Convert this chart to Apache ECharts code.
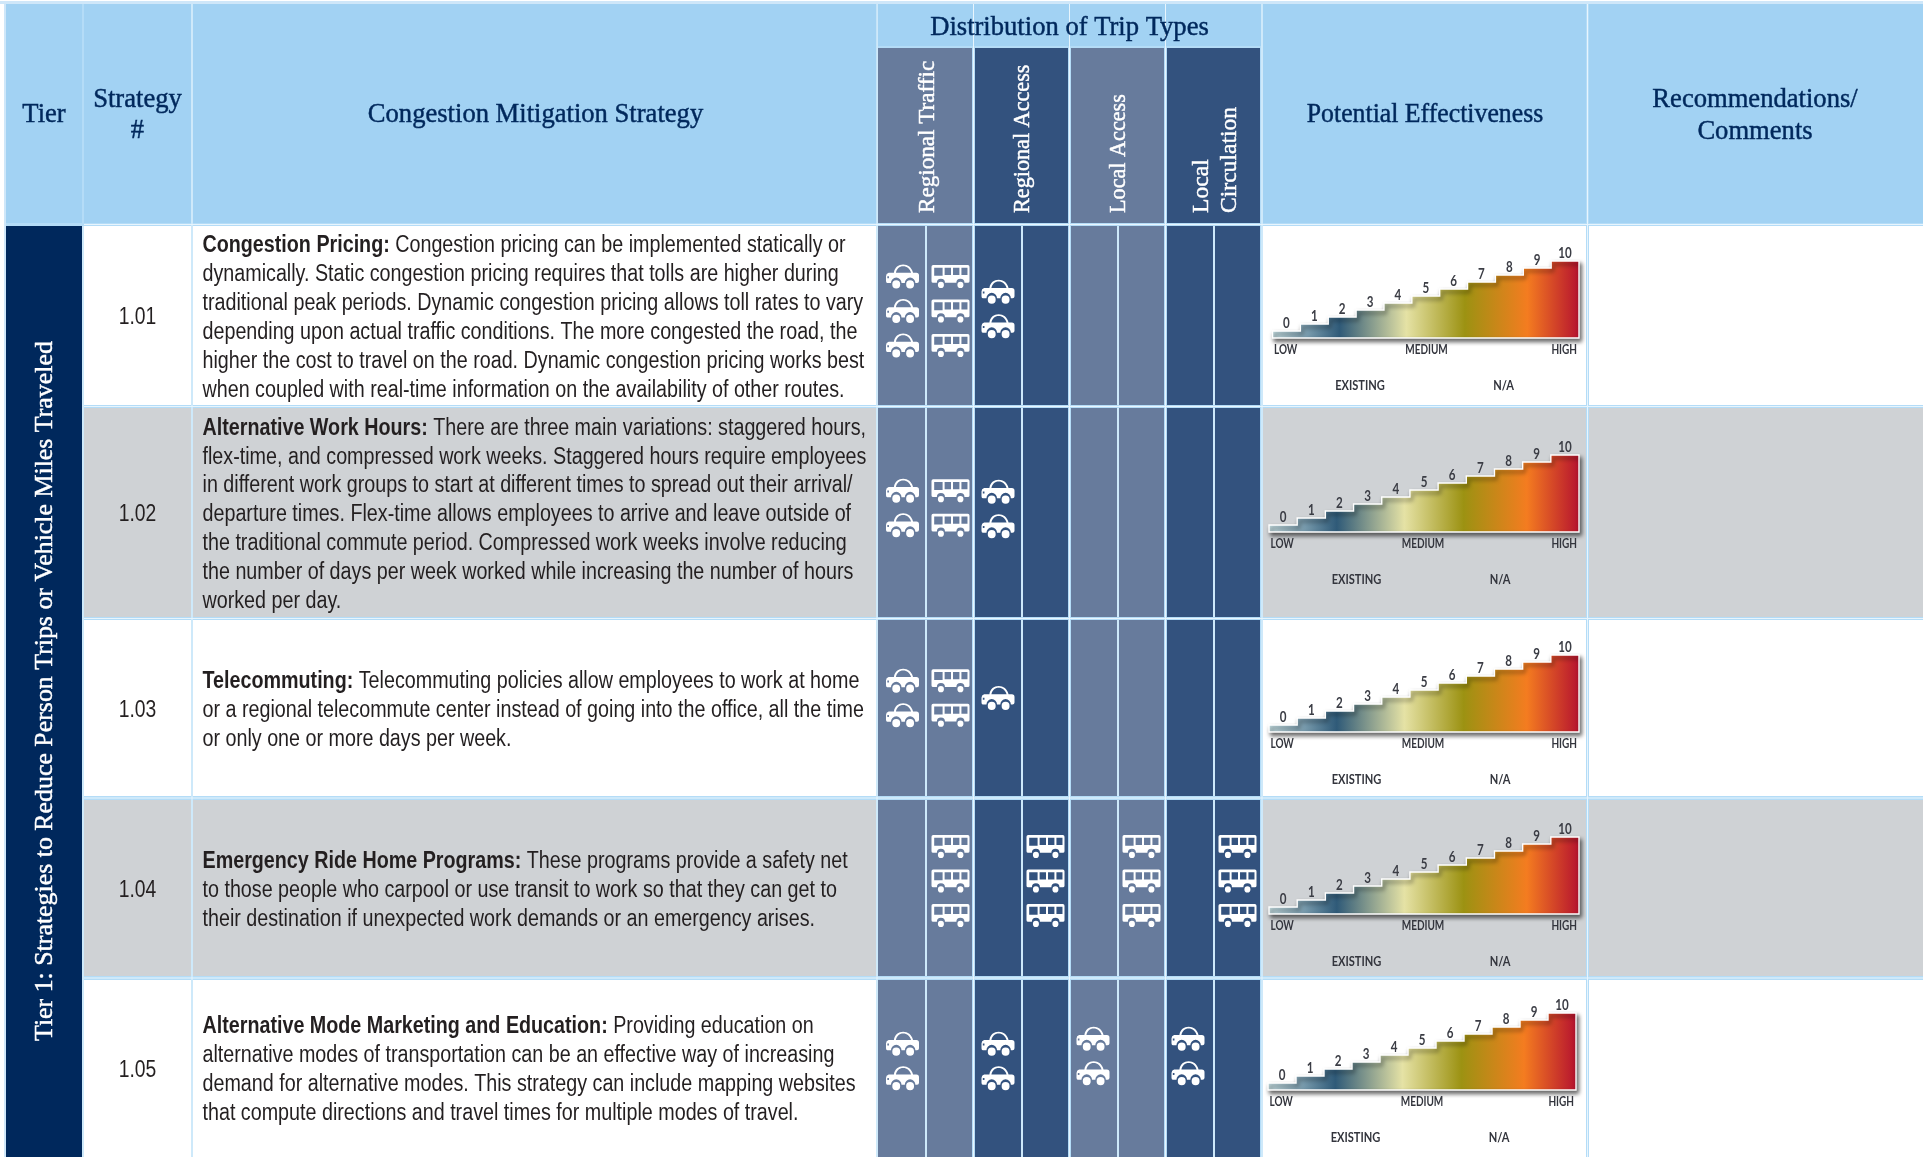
<!DOCTYPE html>
<html><head><meta charset="utf-8">
<style>html,body{margin:0;padding:0;background:#fff}#c{width:1923px;height:1157px}</style>
<script src="https://cdn.jsdelivr.net/npm/echarts@6/dist/echarts.min.js"></script>
</head><body><div id="c"></div>
<script>
// ---- content ----
const tierLabel = ['Tier 1: Strategies to Reduce Person Trips or Vehicle Miles Traveled'];
const strategyIds = ['1.01','1.02','1.03','1.04','1.05'];
const strategyLeads = ['Congestion Pricing:','Alternative Work Hours:','Telecommuting:','Emergency Ride Home Programs:','Alternative Mode Marketing and Education:'];
const strategyLines = [
 ['Congestion pricing can be implemented statically or','dynamically. Static congestion pricing requires that tolls are higher during','traditional peak periods. Dynamic congestion pricing allows toll rates to vary','depending upon actual traffic conditions. The more congested the road, the','higher the cost to travel on the road. Dynamic congestion pricing works best','when coupled with real-time information on the availability of other routes.'],
 ['There are three main variations: staggered hours,','flex-time, and compressed work weeks. Staggered hours require employees','in different work groups to start at different times to spread out their arrival/','departure times. Flex-time allows employees to arrive and leave outside of','the traditional commute period. Compressed work weeks involve reducing','the number of days per week worked while increasing the number of hours','worked per day.'],
 ['Telecommuting policies allow employees to work at home','or a regional telecommute center instead of going into the office, all the time','or only one or more days per week.'],
 ['These programs provide a safety net','to those people who carpool or use transit to work so that they can get to','their destination if unexpected work demands or an emergency arises.'],
 ['Providing education on','alternative modes of transportation can be an effective way of increasing','demand for alternative modes. This strategy can include mapping websites','that compute directions and travel times for multiple modes of travel.']
];
const tripTypes = [['Regional Traffic'],['Regional Access'],['Local Access'],['Local','Circulation']];
// number of car / bus pictograms per strategy (rows) for each trip type
const carsRegionalTraffic  = [3,2,2,0,2];
const busesRegionalTraffic = [3,2,2,3,0];
const carsRegionalAccess   = [2,2,1,0,2];
const busesRegionalAccess  = [0,0,0,3,0];
const carsLocalAccess      = [0,0,0,0,2];
const busesLocalAccess     = [0,0,0,3,0];
const carsLocalCirculation = [0,0,0,0,2];
const busesLocalCirculation= [0,0,0,3,0];
const scaleTicks = ['0','1','2','3','4','5','6','7','8','9','10'];
const scaleWords = ['LOW','MEDIUM','HIGH'];
const statusWords = ['EXISTING','N/A'];

// ---- layout ----
const SERIF = '"Liberation Serif", serif', SANS = '"Liberation Sans", sans-serif', CAPS = 'Lato, "Open Sans", sans-serif';
const NAVY = '#00285c', HEAD = '#a2d2f3', LIGHT = '#677b9c', DARK = '#33527e', GREY = '#cfd2d5', TIER = '#00285c', INK = '#231f20';
const rowTops = [226,408,620,800,980], rowBots = [405,617,796,976,1160];
const rowMid = [318,515,711,890.5,1070.5];
const subEdges = [[878,925],[927,972],[975,1021],[1023,1068],[1071,1117],[1119,1164],[1167,1213],[1215,1260]];
const iconNudge = [1,1,0,0,-1,0,-2,0];
const groupMid = [[311,309,0,0],[508,509,0,0],[698,698,0,0],[881,881,881,881],[1061,1061,1056,1056]];
const stairs = [[1272.5,1579,338],[1269,1579,532],[1269,1579,732],[1269,1579,914],[1268,1576,1090]];
const ICON_STEP = 34.5, LINE = 28.9, STEP_H = 7;

const rects = [];
const rect = (x0,y0,x1,y1,c)=>rects.push({x0,y0,x1,y1,c});
rect(0,1,1923,4,'#cfe7f9');
rect(4,1,6,1160,'#cfe7f9');
rect(6,4,1923,1160,'#b4dcf7');
[[6,82],[84,191],[193,877]].forEach(e=>rect(e[0],4,e[1],223,HEAD));
rect(878,4,1261,46,HEAD);
rect(1263,4,1586,223,HEAD); rect(1589,4,1923,223,HEAD);
rect(878,48,972,223,LIGHT); rect(975,48,1068,223,DARK); rect(1071,48,1164,223,LIGHT); rect(1167,48,1260,223,DARK);
rect(6,226,82,1160,TIER);
rowTops.forEach((t,r)=>{
  const b = rowBots[r], bg = r%2 ? GREY : '#ffffff';
  rect(84,t,191,b,bg); rect(193,t,876,b,bg); rect(1263,t,1586,b,bg); rect(1589,t,1923,b,bg);
  subEdges.forEach((e,i)=>rect(e[0],t,e[1],b,i<2||(i>3&&i<6)?LIGHT:DARK));
});
// pale centre lines of the cell gaps
[83,192,877,973.5,1069.5,1165.5,1262,1587.5].forEach(x=>rect(x-.5,x===83?226:4,x+.5,1160,'#e8f5fd'));
[926,1022,1118,1214].forEach(x=>rowTops.forEach((t,r)=>rect(x-.5,t,x+.5,rowBots[r],'#e8f5fd')));
[224.5,406.5,618.5,798,978].forEach(y=>rect(84,y-.5,1923,y+.5,'#e8f5fd'));

const texts = [];
const txt = (s,x,y,o)=>texts.push(Object.assign({s,x,y,size:27,font:SERIF,fill:NAVY,align:'center',sx:.985,rot:0,bold:.45},o||{}));
txt('Tier',44,115);
txt('Strategy',137.5,100); txt('#',137.5,131);
txt('Congestion Mitigation Strategy',535.5,115);
txt('Distribution of Trip Types',1069.5,28);
txt('Potential Effectiveness',1425,115,{sx:.955});
txt('Recommendations/',1755,99.5); txt('Comments',1755,132);
const headX = [[927.5],[1023],[1119],[1201.5,1230]];
const headSx = [.98,.94,.94,1];
tripTypes.forEach((lines,i)=>lines.forEach((l,j)=>txt(l,headX[i][j],213,{rot:Math.PI/2,align:'left',fill:'#ffffff',size:23.6,sx:headSx[i]})));
txt(tierLabel[0],45.5,1041,{rot:Math.PI/2,align:'left',fill:'#ffffff',size:26,sx:.995});
strategyIds.forEach((s,r)=>{
  txt(s,137.5,rowMid[r],{font:SANS,fill:INK,size:23,sx:.84,bold:0});
  const n = strategyLines[r].length;
  strategyLines[r].forEach((l,i)=>{
    const t = i===0 ? '{b|'+strategyLeads[r]+'} '+l : l;
    txt(t,202.5,rowMid[r]+(i-(n-1)/2)*LINE,{font:SANS,fill:INK,size:23,sx:.857,align:'left',rich:true,bold:0});
  });
});
stairs.forEach(st=>{
  const w = (st[1]-st[0])/scaleTicks.length;
  scaleTicks.forEach((t,i)=>txt(t,st[0]+(i+.5)*w,st[2]-(i+1)*STEP_H-7.5,{font:CAPS,fill:'#3b3d45',size:14.5,sx:.8,weight:'bold',bold:0}));
  const o = {font:CAPS,fill:'#33353d',size:13.5,sx:.74,weight:'bold',bold:0};
  txt(scaleWords[0],st[0]+1.5,st[2]+12,Object.assign({},o,{align:'left'}));
  txt(scaleWords[1],st[0]+154,st[2]+12,o);
  txt(scaleWords[2],st[1]-2,st[2]+12,Object.assign({},o,{align:'right'}));
  txt(statusWords[0],st[0]+87.5,st[2]+47.5,Object.assign({},o,{sx:.82}));
  txt(statusWords[1],st[0]+231,st[2]+47.5,Object.assign({},o,{sx:.82}));
});

const CAR = 'path://M8 24 L24 24 C26 8 38 0 52 0 C66 0 78 8 82 24 L92 24 Q100 24 100 32 L100 48 Q100 54 94 54 L89 54 A16 16 0 0 0 57 54 L47 54 A16 16 0 0 0 15 54 L4 54 Q0 54 0 48 L0 34 Q0 26 8 24 Z '
 + 'M30 24 L76 24 C72 12 64 5 52 5 C40 5 33 12 30 24 Z M4 34 L4 40 L9 40 L9 34 Z '
 + 'M85 58 A12 12 0 1 1 61 58 A12 12 0 1 1 85 58 Z M43 58 A12 12 0 1 1 19 58 A12 12 0 1 1 43 58 Z';
const BUS = 'path://M5 0 L108 0 Q113 0 113 5 L113 47 Q113 52 108 52 L98 52 A12 12 0 0 0 74 52 L40 52 A12 12 0 0 0 16 52 L5 52 Q0 52 0 47 L0 5 Q0 0 5 0 Z '
 + 'M8 8 L8 31 L33 31 L33 8 Z M39 8 L39 29 L58 29 L58 8 Z M64 8 L64 29 L83 29 L83 8 Z M89 8 L89 29 L107 29 L107 8 Z '
 + 'M95 58 A9 9 0 1 1 77 58 A9 9 0 1 1 95 58 Z M37 58 A9 9 0 1 1 19 58 A9 9 0 1 1 37 58 Z';

function iconPoints(counts, sub, pair){
  const pts = [];
  counts.forEach((n,r)=>{
    for(let i=0;i<n;i++){
      pts.push([(subEdges[sub][0]+subEdges[sub][1])/2+iconNudge[sub], groupMid[r][pair]+(i-(n-1)/2)*ICON_STEP]);
    }
  });
  return pts;
}
const carPts = [].concat(iconPoints(carsRegionalTraffic,0,0),iconPoints(carsRegionalAccess,2,1),iconPoints(carsLocalAccess,4,2),iconPoints(carsLocalCirculation,6,3));
const busPts = [].concat(iconPoints(busesRegionalTraffic,1,0),iconPoints(busesRegionalAccess,3,1),iconPoints(busesLocalAccess,5,2),iconPoints(busesLocalCirculation,7,3));

const ramp = [[0,'#c9e2e6'],[.22,'#2f5a78'],[.437,'#e5e2a5'],[.627,'#9c9212'],[.83,'#f47c20'],[1,'#b5122f']];

const chart = echarts.init(document.getElementById('c'),null,{renderer:'canvas'});
chart.setOption({
  animation:false,
  tooltip:{show:false},
  grid:{left:0,right:0,top:0,bottom:0},
  xAxis:{type:'value',min:0,max:1923,show:false},
  yAxis:{type:'value',min:0,max:1157,inverse:true,show:false},
  series:[
   {type:'custom',z:1,silent:true,data:rects.map(r=>[r.x0,r.y0]),renderItem(p,api){
      const r=rects[p.dataIndex],a=api.coord([r.x0,r.y0]),b=api.coord([r.x1,r.y1]);
      return {type:'rect',shape:{x:a[0],y:a[1],width:b[0]-a[0],height:b[1]-a[1]},style:{fill:r.c}};
   }},
   {type:'custom',z:2,silent:true,data:stairs.map(s=>[s[0],s[2]]),renderItem(p,api){
      const st=stairs[p.dataIndex],w=(st[1]-st[0])/scaleTicks.length,pts=[api.coord([st[0],st[2]])];
      scaleTicks.forEach((t,i)=>{
        const top=st[2]-(+t+1)*STEP_H;
        pts.push(api.coord([st[0]+i*w,top]),api.coord([st[0]+(i+1)*w,top]));
      });
      pts.push(api.coord([st[1],st[2]]));
      return {type:'polygon',shape:{points:pts},style:{
        fill:new echarts.graphic.LinearGradient(0,0,1,0,ramp.map(c=>({offset:c[0],color:c[1]}))),
        stroke:'#ffffff',lineWidth:1.4,shadowBlur:4,shadowOffsetX:2,shadowOffsetY:3,shadowColor:'rgba(0,0,0,.6)'}};
   }},
   {type:'scatter',z:3,silent:true,symbol:CAR,symbolSize:[33,24],itemStyle:{color:'#ffffff',opacity:1},data:carPts},
   {type:'scatter',z:3,silent:true,symbol:BUS,symbolSize:[38,23],itemStyle:{color:'#ffffff',opacity:1},data:busPts},
   {type:'custom',z:4,silent:true,data:texts.map(t=>[t.x,t.y]),renderItem(p,api){
      const t=texts[p.dataIndex],c=api.coord([t.x,t.y]);
      const style={text:t.s,fontFamily:t.font,fontSize:t.size,fontWeight:t.weight||'normal',fill:t.fill,align:t.align,verticalAlign:'middle'};
      if(t.bold){style.stroke=t.fill;style.lineWidth=t.bold;}
      if(t.rich) style.rich={b:{fontFamily:t.font,fontSize:t.size,fontWeight:'bold',fill:t.fill}};
      return {type:'text',x:c[0],y:c[1],rotation:t.rot,scaleX:t.sx,scaleY:1,style};
   }}
  ]
});
</script></body></html>
